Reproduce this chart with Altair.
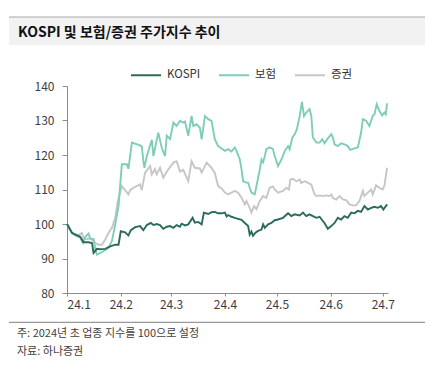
import altair as alt
import pandas as pd

FONT = "Noto Sans CJK KR"
TITLE = "KOSPI 및 보험/증권 주가지수 추이"
NOTE1 = "주: 2024년 초 업종 지수를 100으로 설정"
NOTE2 = "자료: 하나증권"
SERIES = ["KOSPI", "보험", "증권"]
COLORS = ["#2b6b5d", "#7ecdbb", "#c6c6c6"]
Y_TICKS = [80, 90, 100, 110, 120, 130, 140]

# (days since 2024-01-01, index level)
kospi = [(0,100),(2.9,97.4),(7.6,96.3),(9.5,94.7),(12.4,94.7),(14.4,94.5),(15.3,91.6),(17.2,92.8),
         (19.1,92.7),(22,92.8),(24.9,93.5),(27.8,94),(29.7,94),(31,97.9),(33.5,97.6),(35.4,96.7),
         (36.8,98.2),(39.3,99.1),(42.1,99.4),(44,98.2),(46,99.7),(48.3,100.3),(49.8,99.7),(51.7,100),
         (53.6,99.7),(55.5,98.6),(57.5,99.2),(59.4,99.4),(61.3,98.9),(63.2,99.7),(65.1,99.2),(66.1,100.1),
         (68,99.6),(69.9,99.9),(72.4,101.8),(73.7,100.4),(75.6,100.6),(77.6,99.9),(78.9,103.3),(81.4,102.9),
         (83.3,103.4),(85.2,103.5),(87.1,103.1),(89.1,103.1),(91,103.3),(92,102.2),(92.9,102.6),(94.8,102.1),
         (96.7,101.8),(98.6,101.5),(100.6,101.2),(102.5,100.3),(104.4,99.4),(105.3,96.9),(106.3,97.8),
         (107.2,96.6),(108.6,97.5),(110.1,98),(112.1,98.4),(113,99.9),(114,98.9),(115.9,99.9),(117.8,100.3),
         (119.7,101.1),(121.6,101.3),(124.5,101.8),(127.4,103.1),(129.3,102.3),(131.2,102.8),(134.1,102.5),
         (136,103.3),(137.9,102.3),(139.8,102.8),(141.7,102.3),(143.7,101.8),(145.6,102.1),(147.5,100.8),
         (148.4,100.3),(150.3,98.6),(152.3,99.4),(154.2,100.3),(156.1,101.8),(158,101.3),(159.9,102.3),
         (161.8,101.8),(163.8,103.3),(165.7,103.1),(167.6,103.8),(169.5,103.5),(171.4,105.2),(173.4,104.2),
         (175.3,104.7),(177.2,105),(179.1,104.7),(181,105.2),(182.3,104.2),(184.5,105.7)]

insurance = [(0,100),(2.9,97.4),(5.7,96.5),(7.6,96.1),(9.2,94.5),(10.5,96.2),(12.4,97.2),(13.4,95.7),
             (15.3,95.7),(16.3,92.8),(17.2,91.1),(19.1,91.6),(21,92.1),(23.9,93.1),(25.9,95.1),(27.8,99.9),
             (29.7,105.2),(31.6,117.3),(34.5,117.3),(35.4,116),(37.4,123.6),(42.1,122.8),(43.1,122.5),
             (44,118.3),(44.6,116.3),(46,119.7),(48.9,124.4),(49.8,119.7),(52.6,126.5),(54.6,122.1),
             (56.5,119.7),(57.5,125.6),(59.4,124.6),(61.3,129.4),(63.2,128.4),(65.1,129.9),(67,129.4),
             (68,129.7),(69.9,125.6),(71.8,131.3),(72.8,128.4),(74.7,128.9),(76.6,127.9),(77.6,124.5),
             (79.5,131.3),(81.4,130.4),(83.3,129.9),(85.2,124.5),(87.1,122.6),(89.1,121.9),(91,121.2),
             (92.9,121.7),(94.8,121),(96.7,122.2),(97.7,121.2),(99.6,118.7),(100.6,115.8),(101.5,112.4),
             (103.4,112),(104.4,112),(105.3,110.5),(106.3,109.1),(108.2,108.6),(109.2,111),(111.1,115.8),
             (112.1,118.7),(113,117.9),(114,119.7),(114.9,121.7),(116.8,122.2),(118.7,121.7),(119.7,119.7),
             (121.6,116.8),(123.6,118.7),(125.5,121.2),(127.4,122.6),(128.3,121.7),(129.9,125.1),(131.2,126),
             (132.5,127.5),(134.1,131.3),(135.4,135.4),(136.6,131.3),(137.9,132.3),(139.8,133.3),(140.8,131.3),
             (141.7,125.1),(143.7,123.6),(145.6,123.6),(147.1,124.6),(148.4,123.4),(150.3,124.8),(152.3,126),
             (153.2,125.1),(154.2,123.1),(156.1,122.6),(158,123.4),(159.9,123.1),(161.8,122.6),(163.2,121.5),
             (165.7,121.9),(167.6,122.2),(169.5,126.5),(170.5,130.4),(172.4,129.9),(174.3,128.4),(176.2,131.3),
             (177.2,131.8),(178.5,134.7),(180,132.8),(181.6,131.5),(182.9,132.3),(183.7,131.8),(184.5,135)]

securities = [(0,100),(2.9,97.4),(5.7,96.5),(8.6,97.4),(9.5,95.9),(11.5,95.6),(13.4,95.9),(16.3,94.5),
              (18.2,94),(20.1,94),(22,95.5),(23.9,97.4),(25.9,98.9),(27.8,101.8),(29.1,106.2),(31.6,111),
              (33.5,109.8),(35.4,108.6),(36.4,109.8),(38.3,110.5),(42.1,111.5),(43.1,109.8),(45,114.9),
              (47.9,116.8),(48.9,114.4),(50.7,115.9),(51.7,114.4),(53.6,116.3),(55.5,113.4),(57.5,115.2),
              (61.3,117.8),(63.2,118.2),(65.1,115.2),(67,115.7),(69.9,112.4),(71.8,118.2),(73.7,116.3),
              (76.6,116.1),(77.6,114.9),(80.5,117.8),(83.3,116.3),(85.2,114.8),(87.1,111),(89.1,110.3),
              (91,109.1),(92.9,108.6),(94.8,109.1),(96.7,109.6),(98.6,109.1),(100.6,107.6),(102.5,105.7),
              (103.4,106.7),(105.3,104.7),(106.3,103.3),(107.8,105.2),(109.2,104.3),(111.1,106.7),(113,108.1),
              (114.9,107.6),(116.8,110.5),(118.7,110.9),(119.7,110),(121.6,109.1),(124.5,109.6),(126.4,110.5),
              (127.9,110),(128.7,112.9),(130.2,113.1),(132.2,112.4),(134.1,112.9),(135,111.9),(137,112.4),
              (138.9,111.9),(140.8,111.4),(142.7,108.6),(143.7,108.1),(145.6,108.3),(147.5,108.1),(149.4,108.3),
              (151.3,108.1),(152.3,108.6),(153.2,107.6),(155.1,107.1),(157.1,108.1),(159,107.1),(160.9,106.9),
              (162.8,105.7),(164.7,105.4),(166.6,105.4),(168.6,106.7),(170.5,109.6),(171.4,108.1),(173.4,109.1),
              (175.3,110),(176.2,108.6),(178.1,111.2),(180,110.5),(181.9,110),(182.9,111),(184.5,116.3)]

start = pd.Timestamp("2024-01-01")
rows = []
for name, pts in [("증권", securities), ("보험", insurance), ("KOSPI", kospi)]:
    for d, v in pts:
        t = start + pd.Timedelta(days=d)
        rows.append({"date": t.strftime("%Y-%m-%dT%H:%M:%S"), "series": name, "value": v})
df = pd.DataFrame(rows)

W, H = 321, 207
LEFT, TOP = 59, 78

x_scale = alt.Scale(domain=[alt.DateTime(year=2024, month=1, date=1),
                            alt.DateTime(year=2024, month=7, date=4)], nice=False)

lines = alt.Chart(df).mark_line(strokeWidth=1.9).encode(
    x=alt.X("date:T", scale=x_scale,
            axis=alt.Axis(values=[alt.DateTime(year=2024, month=m, date=1) for m in range(1, 8)],
                          format="%y.%-m", title=None, tickSize=3, labelPadding=3,
                          grid=False)),
    y=alt.Y("value:Q", scale=alt.Scale(domain=[80, 140], nice=False, zero=False),
            axis=alt.Axis(values=Y_TICKS, title=None, tickSize=5, labelPadding=8, grid=False)),
    color=alt.Color("series:N", scale=alt.Scale(domain=SERIES, range=COLORS),
                    legend=alt.Legend(title=None, orient="none", direction="horizontal",
                                      legendX=63, legendY=-27, symbolType="stroke",
                                      symbolSize=900, symbolStrokeWidth=2,
                                      labelFont=FONT, labelFontSize=11.5, labelColor="#333333",
                                      labelOffset=5, columnPadding=14, padding=0)),
    order=alt.Order("date:T"),
)

one = pd.DataFrame({"a": [TITLE], "b": [NOTE1], "c": [NOTE2]})
band = alt.Chart(one).mark_rect(color="#f2f2f2").encode(
    x=alt.value(-58), x2=alt.value(358), y=alt.value(-69), y2=alt.value(-41))
top_rule = alt.Chart(one).mark_rule(color="#a6a6a6", strokeWidth=1).encode(
    x=alt.value(-58), x2=alt.value(358), y=alt.value(-69))
title_text = alt.Chart(one).mark_text(align="left", baseline="middle", fontSize=14,
                                      fontWeight="bold", font=FONT, color="#111111").encode(
    x=alt.value(-49), y=alt.value(-53.5), text="a:N")
foot_rule = alt.Chart(one).mark_rule(color="#808080", strokeWidth=1).encode(
    x=alt.value(-58), x2=alt.value(358), y=alt.value(236.3))
note1 = alt.Chart(one).mark_text(align="left", baseline="middle", fontSize=11,
                                 font=FONT, color="#404040").encode(
    x=alt.value(-50), y=alt.value(247.5), text="b:N")
note2 = alt.Chart(one).mark_text(align="left", baseline="middle", fontSize=11,
                                 font=FONT, color="#404040").encode(
    x=alt.value(-50), y=alt.value(265.7), text="c:N")

chart = alt.layer(band, top_rule, title_text, lines, foot_rule, note1, note2).properties(
    width=W, height=H,
    autosize=alt.AutoSizeParams(type="none"),
    padding={"left": LEFT, "top": TOP, "right": 424 - LEFT - W, "bottom": 359 - TOP - H},
).configure_view(stroke=None).configure_axis(
    labelFont=FONT, labelFontSize=12, labelColor="#404040",
    domainColor="#8c8c8c", tickColor="#8c8c8c", domainWidth=1,
)

chart.save("out.html", embed_options={"renderer": "svg", "actions": False})
